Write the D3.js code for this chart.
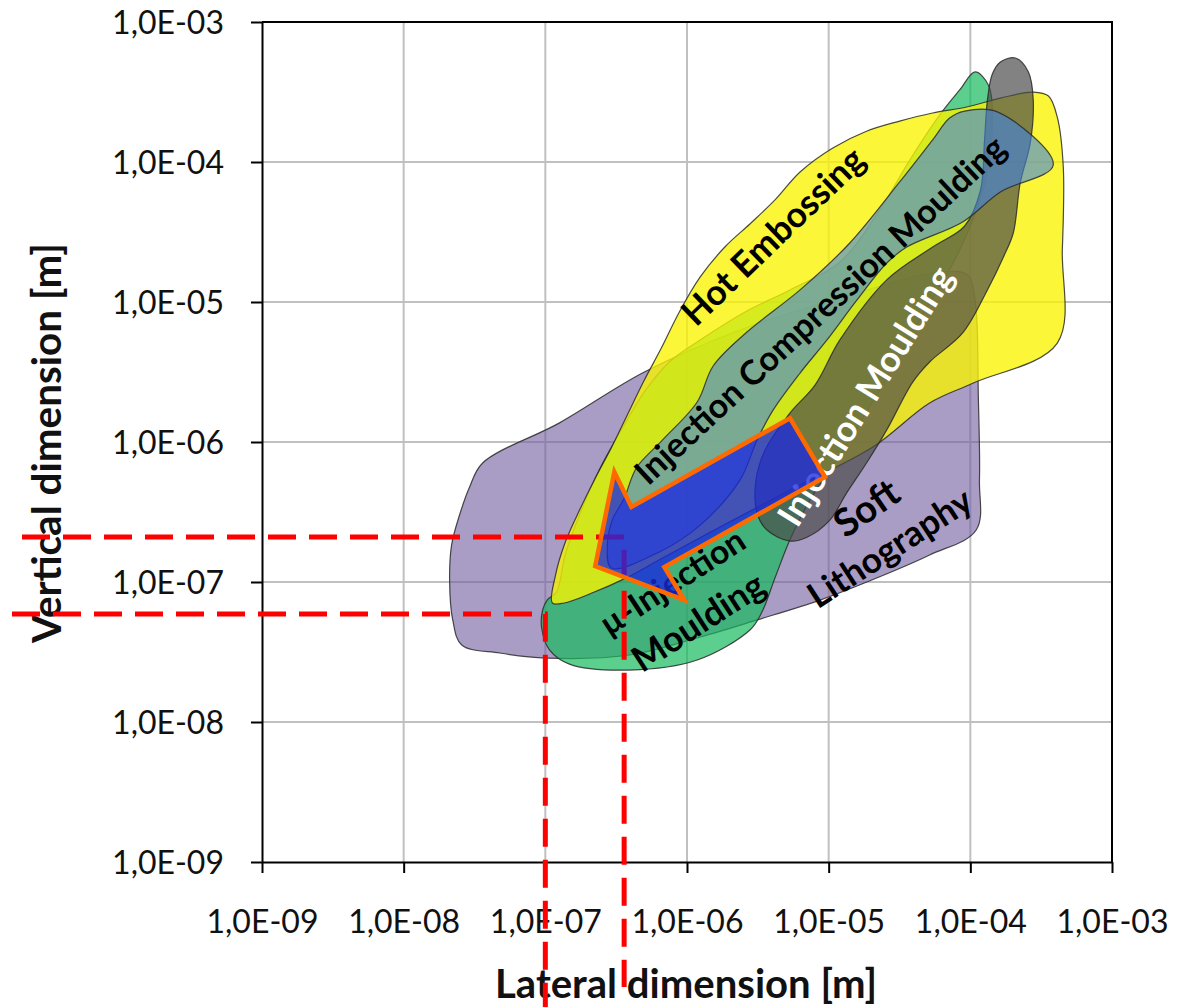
<!DOCTYPE html>
<html>
<head>
<meta charset="utf-8">
<title>Process windows – lateral vs vertical dimension</title>
<script src="https://cdn.jsdelivr.net/npm/d3@7/dist/d3.min.js"></script>
<style>
  html, body { margin: 0; padding: 0; background: #ffffff; }
  svg { display: block; }
</style>
</head>
<body>
<svg id="chart" width="1186" height="1007"></svg>
<script>
// ---- axis decades (metres) ----
const decades = [1e-9, 1e-8, 1e-7, 1e-6, 1e-5, 1e-4, 1e-3];
const decadeLabels = ["1,0E-09", "1,0E-08", "1,0E-07", "1,0E-06", "1,0E-05", "1,0E-04", "1,0E-03"];

// ---- process windows: [lateral dimension m, vertical dimension m] ----
const softLithography = [
  [3.61e-8, 7.08e-7], [1.26e-7, 1.37e-6], [5.0e-7, 3.16e-6], [2.37e-6, 6.31e-6],
  [1.41e-5, 1.12e-5], [6.08e-5, 1.64e-5], [9.57e-5, 1.56e-5], [1.08e-4, 1.03e-5],
  [1.14e-4, 2.0e-6], [1.16e-4, 5.36e-7], [1.10e-4, 2.35e-7], [5.16e-5, 1.56e-7],
  [2.29e-5, 1.09e-7], [8.69e-6, 7.43e-8], [3.12e-6, 5.36e-8], [1.24e-6, 4.05e-8],
  [3.92e-7, 3.01e-8], [1.02e-7, 2.86e-8], [4.76e-8, 3.11e-8], [2.57e-8, 3.55e-8],
  [2.22e-8, 5.36e-8], [2.11e-8, 1.03e-7], [2.18e-8, 1.84e-7], [2.48e-8, 3.01e-7],
  [2.92e-8, 4.77e-7]
];

const microInjectionMoulding = [
  [9.42e-8, 4.69e-8], [9.57e-8, 6.31e-8], [1.03e-7, 7.43e-8], [1.20e-7, 8.49e-8],
  [1.38e-7, 1.56e-7], [1.74e-7, 3.01e-7], [2.40e-7, 6.31e-7], [3.44e-7, 1.22e-6],
  [5.0e-7, 2.28e-6], [7.5e-7, 3.73e-6], [1.24e-6, 5.36e-6], [2.57e-6, 8.49e-6],
  [5.33e-6, 1.22e-5], [1.20e-5, 1.93e-5], [2.29e-5, 4.54e-5], [3.73e-5, 1.03e-4],
  [6.08e-5, 2.17e-4], [8.41e-5, 3.27e-4], [1.08e-4, 4.40e-4], [1.34e-4, 3.55e-4],
  [1.43e-4, 2.0e-4], [1.28e-4, 7.43e-5], [8.41e-5, 2.35e-5], [4.39e-5, 7.43e-6],
  [2.29e-5, 2.35e-6], [1.20e-5, 8.07e-7], [7.38e-6, 3.85e-7], [5.33e-6, 2.0e-7],
  [4.18e-6, 1.07e-7], [3.38e-6, 6.10e-8], [2.78e-6, 4.54e-8], [1.18e-6, 2.77e-8],
  [3.92e-7, 2.35e-8], [1.48e-7, 2.59e-8], [1.07e-7, 3.27e-8]
];

const hotEmbossing = [
  [1.12e-7, 7.08e-8], [1.18e-7, 1.12e-7], [1.36e-7, 1.84e-7], [1.68e-7, 3.01e-7],
  [2.22e-7, 5.36e-7], [2.92e-7, 9.06e-7], [3.79e-7, 1.56e-6], [5.0e-7, 2.77e-6],
  [6.59e-7, 4.69e-6], [8.83e-7, 8.49e-6], [1.24e-6, 1.51e-5], [1.85e-6, 2.47e-5],
  [2.78e-6, 3.61e-5], [4.18e-6, 5.36e-5], [6.28e-6, 8.49e-5], [1.07e-5, 1.26e-4],
  [1.85e-5, 1.66e-4], [3.17e-5, 1.96e-4], [5.42e-5, 2.24e-4], [9.42e-5, 2.47e-4],
  [1.63e-4, 2.86e-4], [2.78e-4, 3.16e-4], [3.56e-4, 2.96e-4], [4.11e-4, 2.09e-4],
  [4.53e-4, 9.2e-5], [4.46e-4, 2.35e-5], [4.11e-4, 5.09e-6], [1.05e-4, 2.64e-6],
  [5.16e-5, 1.90e-6], [2.05e-5, 9.2e-7], [5.33e-6, 4.54e-7], [1.71e-6, 2.47e-7],
  [6.38e-7, 1.44e-7], [3.73e-7, 1.07e-7], [2.05e-7, 8.2e-8], [1.36e-7, 7.08e-8]
];

const injectionMoulding = [
  [1.63e-4, 5.18e-4], [2.08e-4, 5.53e-4], [2.57e-4, 4.40e-4], [2.78e-4, 2.77e-4],
  [2.65e-4, 1.37e-4], [2.25e-4, 7.08e-5], [2.01e-4, 3.11e-5], [1.71e-4, 2.09e-5],
  [1.32e-4, 1.22e-5], [8.83e-5, 6.01e-6], [5.16e-5, 3.73e-6], [3.92e-5, 2.68e-6],
  [2.57e-5, 1.22e-6], [1.85e-5, 7.08e-7], [1.34e-5, 4.33e-7], [1.02e-5, 2.77e-7],
  [7.03e-6, 2.09e-7], [5.33e-6, 1.96e-7], [3.67e-6, 2.35e-7], [3.12e-6, 3.11e-7],
  [3.07e-6, 5.36e-7], [3.56e-6, 8.77e-7], [5.33e-6, 1.61e-6], [8.01e-6, 2.55e-6],
  [1.20e-5, 5.36e-6], [2.57e-5, 1.44e-5], [5.42e-5, 2.47e-5], [9.12e-5, 3.49e-5],
  [1.18e-4, 6.31e-5], [1.26e-4, 1.44e-4], [1.32e-4, 2.77e-4], [1.43e-4, 4.25e-4]
];

const injectionCompressionMoulding = [
  [2.92e-7, 1.26e-7], [2.74e-7, 1.84e-7], [2.97e-7, 2.77e-7], [3.61e-7, 3.98e-7],
  [4.39e-7, 6.52e-7], [6.70e-7, 1.03e-6], [1.18e-6, 1.93e-6], [1.53e-6, 3.49e-6],
  [2.65e-6, 6.10e-6], [6.28e-6, 1.22e-5], [1.41e-5, 2.64e-5], [3.17e-5, 7.2e-5],
  [5.42e-5, 1.44e-4], [7.14e-5, 2.06e-4], [9.12e-5, 2.31e-4], [1.55e-4, 2.28e-4],
  [3.85e-4, 9.52e-5], [1.63e-4, 6.10e-5], [8.83e-5, 3.73e-5], [3.56e-5, 2.47e-5],
  [2.57e-5, 1.90e-5], [1.58e-5, 1.03e-5], [9.73e-6, 5.36e-6], [6.28e-6, 3.11e-6],
  [4.05e-6, 1.69e-6], [3.12e-6, 1.03e-6], [2.37e-6, 5.36e-7], [1.24e-6, 2.55e-7],
  [6.38e-7, 1.64e-7]
];

// miniaturisation trend arrow
const trendArrow = [
  [5.33e-6, 1.48e-6], [9.42e-6, 5.62e-7], [6.92e-7, 1.28e-7], [9.57e-7, 7.43e-8],
  [2.25e-7, 1.30e-7], [3.07e-7, 6.10e-7], [4.05e-7, 3.44e-7]
];

// reference limits marked with dashed guides
const guideLimits = [
  { lateral: 1.0e-7, vertical: 5.9e-8 },
  { lateral: 3.6e-7, vertical: 2.1e-7 }
];

// region captions, anchored in data space
const captions = [
  { text: "Hot Embossing", lateral: 4.05e-6, vertical: 2.95e-5 },
  { text: "Injection Compression Moulding", lateral: 8.69e-6, vertical: 8.77e-6 },
  { text: "Injection Moulding", lateral: 1.82e-5, vertical: 2.13e-6 },
  { text: "Soft", lateral: 1.85e-5, vertical: 3.38e-7 },
  { text: "Lithography", lateral: 2.70e-5, vertical: 1.75e-7 },
  { text: "µ-Injection", lateral: 7.87e-7, vertical: 1.0e-7 },
  { text: "Moulding", lateral: 1.20e-6, vertical: 5.18e-8 }
];

// ---- layout & style ----
const W = 1186, H = 1007;
const plot = { left: 262, right: 1112, top: 22, bottom: 862 };
const FONT = "Lato, 'Open Sans', 'DejaVu Sans', sans-serif";

const captionStyle = [
  { angle: -44, length: 238, color: "#000" },
  { angle: -43, length: 492, color: "#000" },
  { angle: -58, length: 298, color: "#fff" },
  { angle: -35, length: 70,  color: "#000" },
  { angle: -33, length: 188, color: "#000" },
  { angle: -33, length: 166, color: "#000" },
  { angle: -33, length: 150, color: "#000" }
];

const guideExtent = [
  { left: 12, bottom: 1007 },
  { left: 22, bottom: 987 }
];

const x = d3.scaleLog().domain([1e-9, 1e-3]).range([plot.left, plot.right]);
const y = d3.scaleLog().domain([1e-9, 1e-3]).range([plot.bottom, plot.top]);

const svg = d3.select("#chart");

function fitLength(sel, target) {
  const fs = parseFloat(sel.attr("font-size"));
  const len = sel.node().getComputedTextLength();
  if (len > 0) sel.attr("font-size", (fs * target / len).toFixed(2));
}

// ---- gridlines ----
const grid = svg.append("g").attr("class", "grid");
grid.selectAll("line.v").data(decades.slice(1, -1)).join("line")
  .attr("class", "v")
  .attr("x1", d => x(d)).attr("x2", d => x(d))
  .attr("y1", plot.top).attr("y2", plot.bottom)
  .attr("stroke", "#c0c0c0").attr("stroke-width", 2);
grid.selectAll("line.h").data(decades.slice(1, -1)).join("line")
  .attr("class", "h")
  .attr("y1", d => y(d)).attr("y2", d => y(d))
  .attr("x1", plot.left).attr("x2", plot.right)
  .attr("stroke", "#c0c0c0").attr("stroke-width", 2);
// top & right frame
grid.append("path")
  .attr("d", `M${x(1e-9)},${y(1e-3)}H${x(1e-3)}V${y(1e-9)}`)
  .attr("fill", "none").attr("stroke", "#000").attr("stroke-width", 2);

// ---- process windows ----
const area = d3.line()
  .x(d => x(d[0])).y(d => y(d[1]))
  .curve(d3.curveCatmullRomClosed.alpha(0.5));

const regions = [
  { pts: softLithography,              fill: "#705c9e", op: 0.60 },
  { pts: microInjectionMoulding,       fill: "#17b95d", op: 0.70 },
  { pts: hotEmbossing,                 fill: "#faf500", op: 0.78 },
  { pts: injectionMoulding,            fill: "#4a4a4a", op: 0.69 },
  { pts: injectionCompressionMoulding, fill: "#3f82e3", op: 0.60 }
];

svg.append("g").attr("class", "regions")
  .selectAll("path").data(regions).join("path")
  .attr("d", d => area(d.pts))
  .attr("fill", d => d.fill)
  .attr("fill-opacity", d => d.op)
  .attr("stroke", "#2a2a2a")
  .attr("stroke-opacity", 0.85)
  .attr("stroke-width", 1.2);

// ---- axes ----
const tickProbe = svg.append("text").attr("font-family", FONT).attr("font-size", 30).text(decadeLabels[6]);
fitLength(tickProbe, 112);
const tickSize = +tickProbe.attr("font-size");
tickProbe.remove();

const yAxis = d3.axisLeft(y).tickValues(decades)
  .tickFormat((d, i) => decadeLabels[i]).tickSize(11).tickSizeOuter(0).tickPadding(27);
svg.append("g").attr("transform", `translate(${plot.left},0)`).call(yAxis)
  .call(g => g.attr("font-family", FONT).attr("font-size", tickSize))
  .call(g => g.select(".domain").attr("stroke", "#000").attr("stroke-width", 2))
  .call(g => g.selectAll(".tick line").attr("stroke", "#000").attr("stroke-width", 2))
  .call(g => g.selectAll(".tick text").attr("fill", "#111").attr("dy", "0.35em"));

const xAxis = d3.axisBottom(x).tickValues(decades)
  .tickFormat((d, i) => decadeLabels[i]).tickSize(11).tickSizeOuter(0);
svg.append("g").attr("transform", `translate(0,${plot.bottom})`).call(xAxis)
  .call(g => g.attr("font-family", FONT).attr("font-size", tickSize))
  .call(g => g.select(".domain").attr("stroke", "#000").attr("stroke-width", 2))
  .call(g => g.selectAll(".tick line").attr("stroke", "#000").attr("stroke-width", 2))
  .call(g => g.selectAll(".tick text").attr("fill", "#111").attr("y", 71).attr("dy", 0));

// axis titles
const xTitle = svg.append("text")
  .attr("x", 686).attr("y", 998)
  .attr("text-anchor", "middle")
  .attr("font-family", FONT).attr("font-weight", 700).attr("font-size", 34)
  .attr("fill", "#111")
  .text("Lateral dimension [m]");
fitLength(xTitle, 382);

const yTitle = svg.append("text")
  .attr("transform", "translate(61,443) rotate(-90)")
  .attr("text-anchor", "middle")
  .attr("font-family", FONT).attr("font-weight", 700).attr("font-size", 34)
  .attr("fill", "#111")
  .text("Vertical dimension [m]");
fitLength(yTitle, 400);

// ---- captions ----
const capG = svg.append("g").attr("class", "captions");
captions.forEach((c, i) => {
  const s = captionStyle[i];
  const t = capG.append("text")
    .attr("transform", `translate(${x(c.lateral)},${y(c.vertical)}) rotate(${s.angle})`)
    .attr("text-anchor", "middle")
    .attr("dy", "0.35em")
    .attr("font-family", FONT).attr("font-weight", 700).attr("font-size", 30)
    .attr("fill", s.color)
    .text(c.text);
  fitLength(t, s.length);
});

// ---- dashed limit guides ----
svg.append("g").attr("class", "guides")
  .selectAll("path").data(guideLimits).join("path")
  .attr("d", (d, i) => `M${guideExtent[i].left},${y(d.vertical)}H${x(d.lateral)}V${guideExtent[i].bottom}`)
  .attr("fill", "none")
  .attr("stroke", "#ff0000")
  .attr("stroke-width", 5)
  .attr("stroke-dasharray", "28,13");

// ---- trend arrow ----
const arrowLine = d3.line().x(d => x(d[0])).y(d => y(d[1])).curve(d3.curveLinearClosed);
svg.append("path")
  .attr("d", arrowLine(trendArrow))
  .attr("fill", "#1a28e0").attr("fill-opacity", 0.78)
  .attr("stroke", "#ff6a00").attr("stroke-width", 4.5)
  .attr("stroke-linejoin", "miter");
</script>
</body>
</html>
